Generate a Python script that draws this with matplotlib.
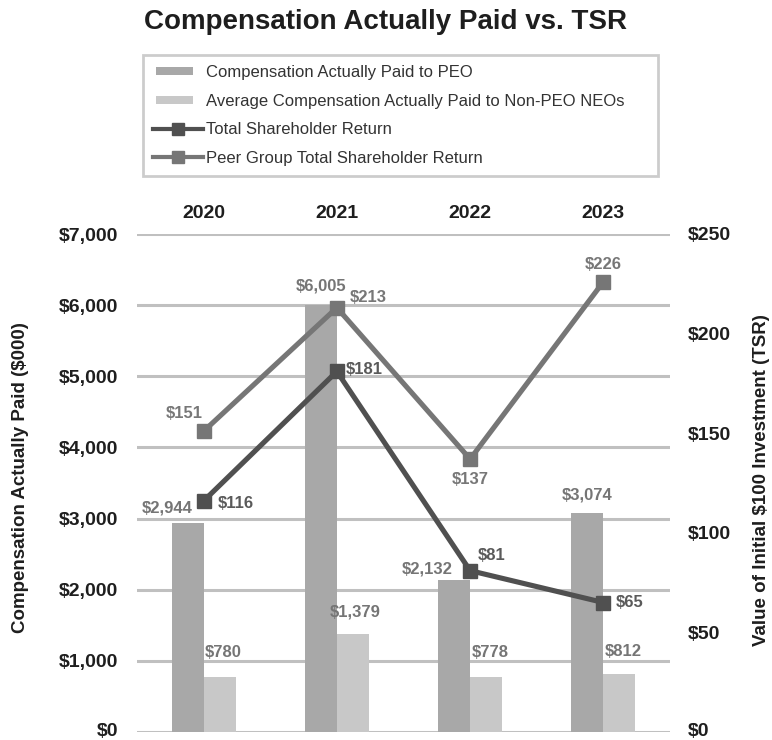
import matplotlib
matplotlib.use("Agg")
import matplotlib.pyplot as plt
from matplotlib.lines import Line2D
from matplotlib.patches import Patch, Rectangle
from matplotlib.legend_handler import HandlerPatch
from matplotlib.ticker import FuncFormatter
from matplotlib.transforms import ScaledTranslation
import numpy as np

plt.rcParams['font.family'] = ['Liberation Sans', 'DejaVu Sans']

years = ["2020", "2021", "2022", "2023"]
peo_cap = [2944, 6005, 2132, 3074]
neo_cap = [780, 1379, 778, 812]
tsr = [116, 181, 81, 65]
peer_tsr = [151, 213, 137, 226]

c_peo = "#a8a8a8"
c_neo = "#c8c8c8"
c_tsr = "#505050"
c_peer = "#767676"
c_grid = "#c0c0c0"
c_text = "#1e1e1e"

fig = plt.figure(figsize=(7.72, 7.40), dpi=100)
ax = fig.add_axes([137/772, 1-732/740, (670-137)/772, (732-234)/740])
ax2 = ax.twinx()

x = np.arange(len(years))
w = 0.24
ax.bar(x - w/2, peo_cap, width=w, color=c_peo, zorder=2)
ax.bar(x + w/2, neo_cap, width=w, color=c_neo, zorder=2)

ax.set_xlim(-0.5, 3.5)
ax.set_ylim(0, 7000)
ax.set_yticks(np.arange(0, 7001, 1000))
ax.yaxis.set_major_formatter(FuncFormatter(lambda v, p: f"${v:,.0f}"))
ax.grid(axis='y', color=c_grid, linewidth=2.2, zorder=0)
ax.set_axisbelow(True)
for s in ax.spines.values():
    s.set_visible(False)
for s in ax2.spines.values():
    s.set_visible(False)
ax.tick_params(axis='y', length=0, pad=13.5, labelsize=14, labelcolor=c_text)
ax.xaxis.tick_top()
ax.set_xticks(x)
ax.set_xticklabels(years)
ax.tick_params(axis='x', length=0, pad=9, labelsize=14, labelcolor=c_text)
for lab in ax.get_yticklabels() + ax.get_xticklabels():
    lab.set_fontweight('bold')

ax2.set_ylim(0, 250)
ax2.set_yticks(np.arange(0, 251, 50))
ax2.yaxis.set_major_formatter(FuncFormatter(lambda v, p: f"${v:,.0f}"))
ax2.tick_params(axis='y', length=0, pad=12.5, labelsize=14, labelcolor=c_text)
for lab in ax2.get_yticklabels():
    lab.set_fontweight('bold')

# keep the bottom "$0" labels inside the figure
up = ScaledTranslation(0, 3/100, fig.dpi_scale_trans)
t0 = ax.yaxis.get_major_ticks()[0]
t0.label1.set_transform(t0.label1.get_transform() + up)
t2 = ax2.yaxis.get_major_ticks()[0]
t2.label2.set_transform(t2.label2.get_transform() + up)

ax2.plot(x, tsr, color=c_tsr, linewidth=3.7, marker='s', markersize=10, zorder=4)
ax2.plot(x, peer_tsr, color=c_peer, linewidth=3.7, marker='s', markersize=10, zorder=3)

fig.text(21/772, 1-478/740, "Compensation Actually Paid ($000)", rotation=90,
         ha='center', va='center', fontsize=13.5, fontweight='bold', color=c_text)
fig.text(761/772, 1-480/740, "Value of Initial $100 Investment (TSR)", rotation=90,
         ha='center', va='center', fontsize=13.5, fontweight='bold', color=c_text)

lab_kw = dict(fontsize=12, fontweight='bold')
px = 72/100  # points per pixel
# bar labels (offsets in pixels: dx, dy of label center)
peo_off = [(-20, 15), (0, 19), (-27, 11), (0, 18)]
for i in range(4):
    dx, dy = peo_off[i]
    ax.annotate(f"${peo_cap[i]:,}", (x[i] - w/2, peo_cap[i]), xytext=(dx*px, dy*px),
                textcoords='offset points', ha='center', va='center', color="#757575", **lab_kw)
neo_off = [(4, 24), (2, 22), (4, 24), (4, 23)]
for i in range(4):
    dx, dy = neo_off[i]
    ax.annotate(f"${neo_cap[i]:,}", (x[i] + w/2, neo_cap[i]), xytext=(dx*px, dy*px),
                textcoords='offset points', ha='center', va='center', color="#757575", **lab_kw)

# TSR labels (left edge dx, center dy in pixels)
tsr_off = [(14, -3), (9, 2), (8, 15), (12, 0)]
for i in range(4):
    dx, dy = tsr_off[i]
    ax2.annotate(f"${tsr[i]}", (x[i], tsr[i]), xytext=(dx*px, dy*px), textcoords='offset points',
                 ha='left', va='center', color="#5a5a5a", **lab_kw)

peer_off = [(-19, 18, 'center'), (13, 10, 'left'), (0, -20, 'center'), (0, 17, 'center')]
for i in range(4):
    dx, dy, ha = peer_off[i]
    ax2.annotate(f"${peer_tsr[i]}", (x[i], peer_tsr[i]), xytext=(dx*px, dy*px),
                 textcoords='offset points', ha=ha, va='center', color="#777777", **lab_kw)

fig.text(0.5, 1-22/740, "Compensation Actually Paid vs. TSR", ha='center', va='center',
         fontsize=20, fontweight='bold', color=c_text)


def bar_handle(legend, orig_handle, xdescent, ydescent, width, height, fontsize):
    return Rectangle((-xdescent + 0.06*width, -ydescent + 0.5*height - 2.7),
                     0.74*width, 5.4, facecolor=orig_handle.get_facecolor(),
                     edgecolor='none')


handles = [
    Patch(facecolor=c_peo),
    Patch(facecolor=c_neo),
    Line2D([], [], color=c_tsr, linewidth=3, marker='s', markersize=9),
    Line2D([], [], color=c_peer, linewidth=3, marker='s', markersize=9),
]
labels = ["Compensation Actually Paid to PEO",
          "Average Compensation Actually Paid to Non-PEO NEOs",
          "Total Shareholder Return",
          "Peer Group Total Shareholder Return"]
leg = fig.legend(handles, labels, loc='upper left',
                 bbox_to_anchor=(143/772, 1-177/740, 515/772, 122/740), mode='expand',
                 borderaxespad=0, fontsize=12, frameon=True, fancybox=False,
                 handlelength=3.0, handletextpad=0.2, labelspacing=0.82, borderpad=0.6,
                 labelcolor="#333333",
                 handler_map={Patch: HandlerPatch(patch_func=bar_handle)})
leg.get_frame().set_edgecolor(c_grid)
leg.get_frame().set_linewidth(2)

fig.savefig("out.png", dpi=100)
